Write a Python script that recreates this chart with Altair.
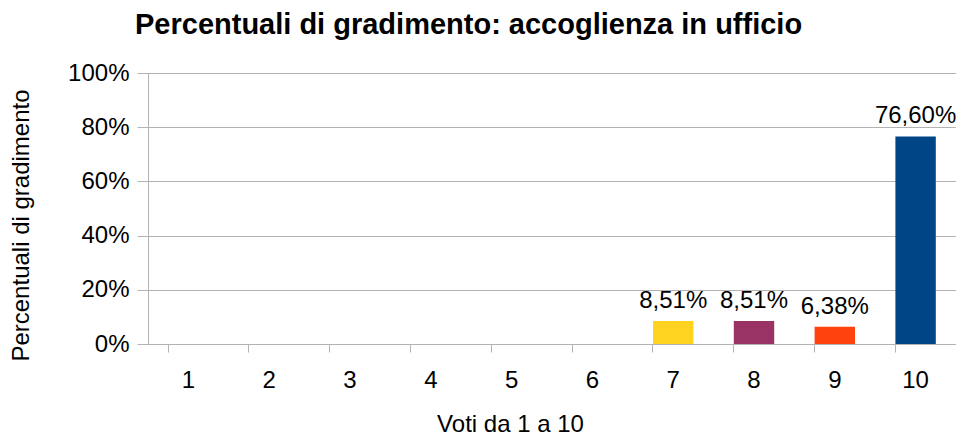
import altair as alt
import pandas as pd

voti = ["1", "2", "3", "4", "5", "6", "7", "8", "9", "10"]
percentuali = [0, 0, 0, 0, 0, 0, 8.51, 8.51, 6.38, 76.60]
colori = ["#004586", "#ff420e", "#ffd320", "#579d1c", "#7e0021",
          "#83caff", "#ffd320", "#993366", "#ff420e", "#004586"]

df = pd.DataFrame({"voto": voti, "perc": percentuali})
df["etichetta"] = [f"{v:.2f}".replace(".", ",") + "%" for v in percentuali]

FONT = "Liberation Sans"
GRID = "#b3b3b3"

x_enc = alt.X(
    "voto:N", sort=voti,
    scale=alt.Scale(paddingInner=0.5, paddingOuter=0.25),
    axis=alt.Axis(
        title="Voti da 1 a 10", labelAngle=0, labelFontSize=24, labelFont=FONT,
        labelColor="#000000", labelPadding=16, tickSize=8, tickColor=GRID,
        bandPosition=0, domainColor=GRID, grid=False,
        titleFontSize=24, titleFont=FONT, titleFontWeight="normal", titleColor="#000000",
        titleX=362, titleY=87, titleAlign="center", titleBaseline="alphabetic",
    ),
)
y_enc = alt.Y(
    "perc:Q",
    scale=alt.Scale(domain=[0, 100]),
    axis=alt.Axis(
        title="Percentuali di gradimento", values=[0, 20, 40, 60, 80, 100],
        labelExpr="datum.value + '%'", labelFontSize=24, labelFont=FONT,
        labelColor="#000000", labelPadding=8, tickSize=11, tickColor=GRID,
        gridColor=GRID, domainColor=GRID,
        titleFontSize=24, titleFont=FONT, titleFontWeight="normal", titleColor="#000000",
        titleX=-127, titleY=152, titleAlign="center", titleBaseline="middle", titleAngle=-90,
    ),
)

bars = alt.Chart(df).mark_bar().encode(
    x=x_enc, y=y_enc,
    color=alt.Color("voto:N", sort=voti, scale=alt.Scale(domain=voti, range=colori), legend=None),
)

labels = alt.Chart(df).transform_filter("datum.perc > 0").mark_text(
    baseline="alphabetic", dy=-13, fontSize=24, font=FONT, color="#000000"
).encode(
    x=alt.X("voto:N", sort=voti), y="perc:Q", text="etichetta:N"
)

chart = alt.layer(bars, labels).properties(
    width=808, height=271,
    title=alt.Title(
        "Percentuali di gradimento: accoglienza in ufficio",
        fontSize=29, fontWeight="bold", font=FONT, color="#000000",
        anchor="start", frame="group", dx=-13, offset=21,
    ),
    autosize=alt.AutoSizeParams(type="none"),
    padding={"left": 140, "top": 65, "right": 0, "bottom": 91},
).configure_view(stroke=GRID)

chart.save("out.html", embed_options={"renderer": "svg", "actions": False})
